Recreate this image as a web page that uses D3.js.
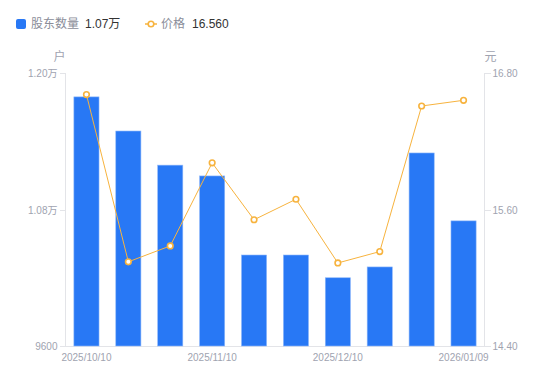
<!DOCTYPE html>
<html lang="zh">
<head>
<meta charset="UTF-8">
<title>股东数量与价格</title>
<style>
  body { margin: 0; background: #fff; }
  svg { font-family: "Liberation Sans", "Noto Sans CJK SC", sans-serif; }
  .tick-text { font-size: 10px; fill: #a0a3b0; }
  .ax-line { stroke: #e3e4e8; stroke-width: 1; shape-rendering: crispEdges; }
</style>
</head>
<body>
<div id="chart"></div>
<script src="https://cdnjs.cloudflare.com/ajax/libs/d3/7.8.5/d3.min.js"></script>
<script>
var dates = ["2025/10/10", "2025/10/20", "2025/10/31", "2025/11/10", "2025/11/20",
             "2025/11/28", "2025/12/10", "2025/12/19", "2025/12/31", "2026/01/09"];
var holders = [11790, 11490, 11190, 11095, 10400, 10400, 10200, 10295, 11297, 10700];
var prices = [16.61, 15.14, 15.28, 16.01, 15.51, 15.69, 15.13, 15.23, 16.51, 16.56];
var leftTicks = [9600, 10800, 12000];
var rightTicks = [14.40, 15.60, 16.80];
var xLabelIdx = [0, 3, 6, 9];

(function() {
  var W = 550, H = 381;
  var left = 65.5, right = 484.5, top = 73, bottom = 346;
  var barColor = "#2878f5", lineColor = "#f7b33e";

  var svg = d3.select("#chart").append("svg")
    .attr("width", W).attr("height", H);

  var x = d3.scaleBand().domain(dates).range([left, right]).paddingInner(0.4).paddingOuter(0.2);
  var xc = function(d) { return x(d) + x.bandwidth() / 2; };
  var yL = d3.scaleLinear().domain([9600, 12000]).range([bottom, top]);
  var yR = d3.scaleLinear().domain([14.4, 16.8]).range([bottom, top]);

  function fmtL(v) { return v >= 10000 ? (v / 10000).toFixed(2) + "万" : String(v); }

  // axes
  svg.append("line").attr("class", "ax-line")
    .attr("x1", left).attr("x2", left).attr("y1", top).attr("y2", bottom);
  svg.append("line").attr("class", "ax-line")
    .attr("x1", right).attr("x2", right).attr("y1", top).attr("y2", bottom);
  svg.append("line").attr("class", "ax-line")
    .attr("x1", left).attr("x2", right).attr("y1", bottom + 0.5).attr("y2", bottom + 0.5);

  leftTicks.forEach(function(v) {
    var yy = Math.round(yL(v)) + 0.5;
    svg.append("line").attr("class", "ax-line")
      .attr("x1", left - 6).attr("x2", left).attr("y1", yy).attr("y2", yy);
    svg.append("text").attr("class", "tick-text")
      .attr("x", left - 8).attr("y", yy).attr("dy", "0.35em")
      .attr("text-anchor", "end").text(fmtL(v));
  });
  rightTicks.forEach(function(v) {
    var yy = Math.round(yR(v)) + 0.5;
    svg.append("line").attr("class", "ax-line")
      .attr("x1", right).attr("x2", right + 6).attr("y1", yy).attr("y2", yy);
    svg.append("text").attr("class", "tick-text")
      .attr("x", right + 8).attr("y", yy).attr("dy", "0.35em")
      .text(v.toFixed(2));
  });
  xLabelIdx.forEach(function(i) {
    svg.append("text").attr("class", "tick-text")
      .attr("x", xc(dates[i])).attr("y", bottom + 15)
      .attr("text-anchor", "middle").text(dates[i]);
  });

  svg.append("text").attr("x", left - 6).attr("y", top - 12)
    .attr("text-anchor", "middle").style("font-size", "12px").style("fill", "#a0a3b0").text("户");
  svg.append("text").attr("x", right + 6).attr("y", top - 12)
    .attr("text-anchor", "middle").style("font-size", "12px").style("fill", "#a0a3b0").text("元");

  // bars
  svg.selectAll("rect.bar").data(holders).enter().append("rect")
    .attr("class", "bar")
    .attr("x", function(d, i) { return x(dates[i]); })
    .attr("y", function(d) { return yL(d); })
    .attr("width", x.bandwidth())
    .attr("height", function(d) { return bottom - yL(d); })
    .attr("fill", barColor)
    .attr("stroke", "#8fb8fa").attr("stroke-width", 0.6);

  // price line
  var line = d3.line()
    .x(function(d, i) { return xc(dates[i]); })
    .y(function(d) { return yR(d); });
  svg.append("path").datum(prices)
    .attr("d", line).attr("fill", "none")
    .attr("stroke", lineColor).attr("stroke-width", 1);
  svg.selectAll("circle.pt").data(prices).enter().append("circle")
    .attr("class", "pt")
    .attr("cx", function(d, i) { return xc(dates[i]); })
    .attr("cy", function(d) { return yR(d); })
    .attr("r", 2.8)
    .attr("fill", "#fff").attr("stroke", lineColor).attr("stroke-width", 1.6);

  // legend
  var lg = svg.append("g").style("font-size", "12px");
  lg.append("rect").attr("x", 16).attr("y", 19).attr("width", 10).attr("height", 10)
    .attr("rx", 2).attr("fill", barColor);
  lg.append("text").attr("x", 31).attr("y", 24).attr("dy", "0.35em")
    .style("fill", "#8a8d99").text("股东数量");
  lg.append("text").attr("x", 85).attr("y", 24).attr("dy", "0.35em")
    .style("fill", "#333").text(fmtL(holders[holders.length - 1]));
  lg.append("line").attr("x1", 145).attr("x2", 157).attr("y1", 24).attr("y2", 24)
    .attr("stroke", lineColor).attr("stroke-width", 1.5);
  lg.append("circle").attr("cx", 151).attr("cy", 24).attr("r", 2.8)
    .attr("fill", "#fff").attr("stroke", lineColor).attr("stroke-width", 1.6);
  lg.append("text").attr("x", 161).attr("y", 24).attr("dy", "0.35em")
    .style("fill", "#8a8d99").text("价格");
  lg.append("text").attr("x", 192).attr("y", 24).attr("dy", "0.35em")
    .style("fill", "#333").text(prices[prices.length - 1].toFixed(3));
})();
</script>
</body>
</html>
